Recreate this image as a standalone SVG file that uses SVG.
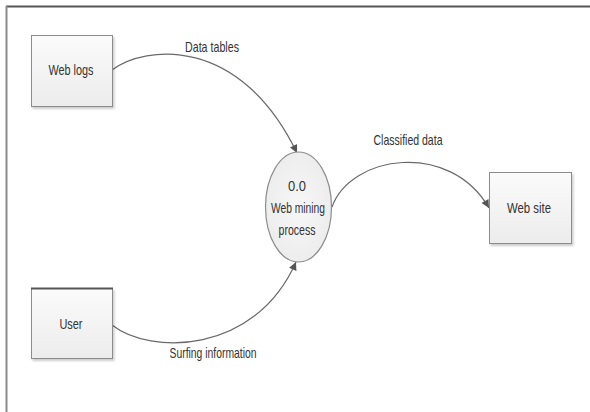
<svg xmlns="http://www.w3.org/2000/svg" width="590" height="412" viewBox="0 0 590 412">
<style>
.box{fill:url(#g);stroke:#8c8c8c;stroke-width:1}
.t{font-family:"Liberation Sans",Arial,sans-serif;font-size:15px;fill:#333;text-anchor:middle}
.c{fill:none;stroke:#6a6a6a;stroke-width:1.2;marker-end:url(#a)}
</style>
<defs>
<linearGradient id="g" x1="0" y1="0" x2="0" y2="1"><stop offset="0" stop-color="#fbfbfb"/><stop offset="1" stop-color="#ececec"/></linearGradient>
<radialGradient id="rg" cx="0.5" cy="0.5" r="0.6"><stop offset="0" stop-color="#f7f7f7"/><stop offset="1" stop-color="#ebebeb"/></radialGradient>
<filter id="sh" x="-10%" y="-10%" width="130%" height="130%"><feDropShadow dx="1.5" dy="2" stdDeviation="1.2" flood-color="#000" flood-opacity="0.2"/></filter>
<marker id="a" viewBox="0 0 10 10" refX="10" refY="5" markerWidth="10" markerHeight="8" markerUnits="userSpaceOnUse" orient="auto"><path d="M0,0 L10,5 L0,10 z" fill="#555"/></marker>
</defs>
<rect width="590" height="412" fill="#fff"/>
<line x1="6" y1="6.5" x2="590" y2="6.5" stroke="#555" stroke-width="2"/>
<line x1="6.5" y1="6" x2="6.5" y2="412" stroke="#8a8a8a" stroke-width="2"/>
<g id="connectors">
<path class="c" d="M112,70 C145,45 240,35 297,153"/>
<path class="c" d="M332,207 C350,155 450,140 489,208"/>
<path class="c" d="M112,325 C150,355 255,355 296,262"/>
<rect x="184" y="39" width="57" height="16" fill="#fff"/>
<text class="t" x="212" y="52" textLength="54" lengthAdjust="spacingAndGlyphs">Data tables</text>
<text class="t" x="408" y="145" textLength="69" lengthAdjust="spacingAndGlyphs">Classified data</text>
<rect x="168" y="345" width="91" height="16" fill="#fff"/>
<text class="t" x="213" y="358" textLength="87" lengthAdjust="spacingAndGlyphs">Surfing information</text>
</g>
<g id="weblogs">
<rect class="box" x="31.5" y="35.5" width="81" height="71" filter="url(#sh)"/>
<text class="t" x="71" y="75" textLength="45" lengthAdjust="spacingAndGlyphs">Web logs</text>
</g>
<g id="user">
<rect class="box" x="31.5" y="288.5" width="81" height="70" filter="url(#sh)"/>
<line x1="31" y1="288.5" x2="113" y2="288.5" stroke="#555" stroke-width="2"/>
<text class="t" x="71" y="329" textLength="23" lengthAdjust="spacingAndGlyphs">User</text>
</g>
<g id="website">
<rect class="box" x="489.5" y="172.5" width="82" height="71" filter="url(#sh)"/>
<text class="t" x="529" y="213" textLength="44" lengthAdjust="spacingAndGlyphs">Web site</text>
</g>
<g id="process">
<ellipse cx="298.5" cy="207" rx="33" ry="55" fill="url(#rg)" stroke="#8c8c8c" stroke-width="1.2"/>
<text class="t" x="297" y="191" textLength="18" lengthAdjust="spacingAndGlyphs">0.0</text>
<text class="t" x="298" y="213" textLength="54" lengthAdjust="spacingAndGlyphs">Web mining</text>
<text class="t" x="297" y="235" textLength="37" lengthAdjust="spacingAndGlyphs">process</text>
</g>
</svg>
